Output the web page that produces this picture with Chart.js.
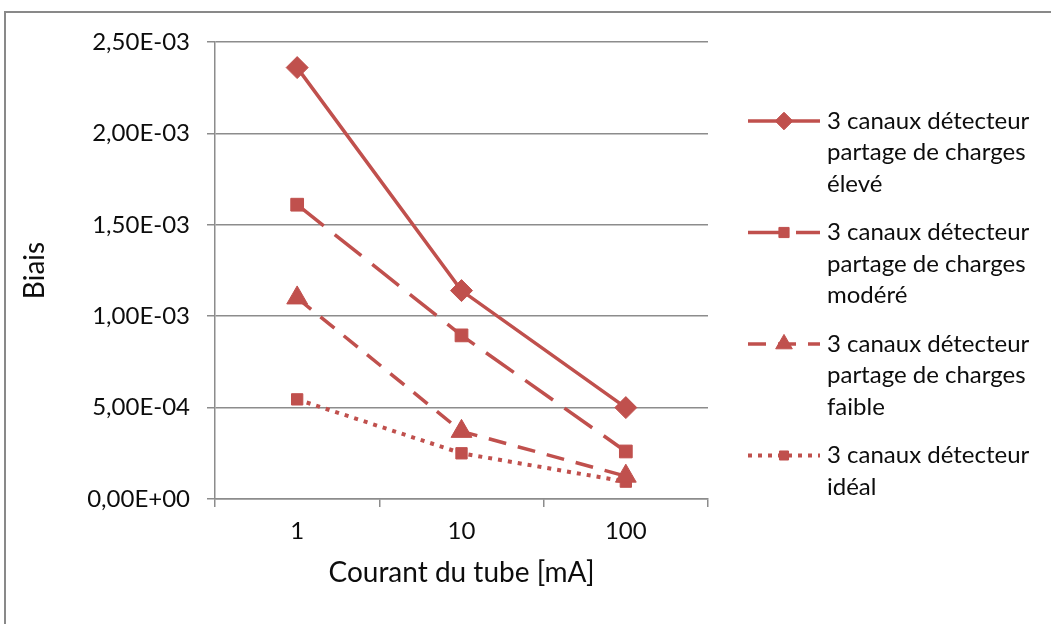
<!DOCTYPE html>
<html lang="fr">
<head>
<meta charset="UTF-8">
<title>Biais en fonction du courant du tube</title>
<script src="https://cdn.jsdelivr.net/npm/chart.js"></script>
<style>
  html, body { margin: 0; padding: 0; background: #fff; }
  #wrap { position: relative; width: 1051px; height: 624px; overflow: hidden; }
</style>
</head>
<body>
<div id="wrap"><canvas id="biaisChart" width="1051" height="624"></canvas></div>
<script>
// valeurs
const courants = ['1', '10', '100'];
const biaisEleve = [2.36e-3, 1.14e-3, 5.0e-4];
const biaisModere = [1.61e-3, 8.95e-4, 2.6e-4];
const biaisFaible = [1.10e-3, 3.7e-4, 1.25e-4];
const biaisIdeal = [5.45e-4, 2.5e-4, 9.5e-5];
const legendes = [
    ['3 canaux détecteur', 'partage de charges', 'élevé'],
    ['3 canaux détecteur', 'partage de charges', 'modéré'],
    ['3 canaux détecteur', 'partage de charges', 'faible'],
    ['3 canaux détecteur', 'idéal']
];
const yMin = 0, yMax = 2.5e-3, yStep = 5e-4;

const ROUGE = '#C0504D';
const GRIS = '#8c8c8c';
const TEXTE = '#0d0d0d';
const POLICE = 'Lato, "Open Sans", sans-serif';

function formatSci(v) {
    const parts = v.toExponential(2).split('e');
    const n = parseInt(parts[1], 10);
    const exp = (n < 0 ? '-' : '+') + String(Math.abs(n)).padStart(2, '0');
    return parts[0].replace('.', ',') + 'E' + exp;
}

// cadre gris autour du graphique
const cadre = {
    id: 'cadre',
    beforeDraw(chart) {
        const ctx = chart.ctx;
        ctx.save();
        ctx.strokeStyle = '#898989';
        ctx.lineWidth = 2;
        ctx.strokeRect(5, 12, 1100, 700);
        ctx.restore();
    }
};

// légende à droite, textes sur plusieurs lignes
const legendeExcel = {
    id: 'legendeExcel',
    afterDraw(chart) {
        const ctx = chart.ctx;
        ctx.save();
        chart.data.datasets.forEach((ds, i) => {
            const y0 = 121 + i * 111.5;
            ctx.strokeStyle = ds.borderColor;
            ctx.fillStyle = ds.backgroundColor;
            ctx.lineWidth = ds.borderWidth;
            ctx.lineCap = 'butt';
            ctx.setLineDash(ds.borderDash || []);
            ctx.beginPath();
            ctx.moveTo(748, y0);
            ctx.lineTo(820, y0);
            ctx.stroke();
            ctx.setLineDash([]);
            ctx.lineWidth = 1;
            Chart.helpers.drawPoint(ctx, {
                pointStyle: ds.pointStyle,
                radius: ds.pointRadius * 0.8,
                borderWidth: 1,
                rotation: 0
            }, 784, y0);
            ctx.fillStyle = TEXTE;
            ctx.font = '24px ' + POLICE;
            ctx.textBaseline = 'middle';
            ctx.textAlign = 'left';
            legendes[i].forEach((txt, j) => {
                ctx.fillText(txt, 827, y0 + j * 31.5);
            });
        });
        ctx.restore();
    }
};

function serie(data, style, rayon, dash, largeur) {
    return {
        data: data,
        borderColor: ROUGE,
        backgroundColor: ROUGE,
        pointBackgroundColor: ROUGE,
        pointBorderColor: ROUGE,
        borderWidth: largeur,
        borderDash: dash,
        pointStyle: style,
        pointRadius: rayon,
        pointBorderWidth: 1,
        tension: 0
    };
}

new Chart(document.getElementById('biaisChart'), {
    type: 'line',
    data: {
        labels: courants,
        datasets: [
            serie(biaisEleve, 'rectRot', 11, [], 3.5),
            serie(biaisModere, 'rect', 9, [34, 14], 3.5),
            serie(biaisFaible, 'triangle', 12, [18, 12], 3.5),
            serie(biaisIdeal, 'rect', 8, [4, 6], 4)
        ]
    },
    options: {
        responsive: false,
        animation: false,
        layout: { padding: { left: 0, top: 42, right: 343, bottom: 0 } },
        plugins: {
            legend: { display: false },
            tooltip: { enabled: false }
        },
        scales: {
            x: {
                offset: true,
                afterFit(scale) { scale.height = 125; },
                grid: {
                    offset: true,
                    drawOnChartArea: false,
                    drawTicks: true,
                    tickLength: 8,
                    color: GRIS,
                    lineWidth: 1.5
                },
                border: { display: true, color: GRIS, width: 1.5 },
                ticks: {
                    color: TEXTE,
                    padding: 10,
                    maxRotation: 0,
                    font: { family: POLICE, size: 24 }
                },
                title: {
                    display: true,
                    text: 'Courant du tube [mA]',
                    color: TEXTE,
                    padding: { top: 0, bottom: 34 },
                    font: { family: POLICE, size: 28 }
                }
            },
            y: {
                min: yMin,
                max: yMax,
                afterFit(scale) { scale.width = 215; },
                grid: {
                    color: GRIS,
                    lineWidth: 1.5,
                    drawTicks: true,
                    tickLength: 8
                },
                border: { display: true, color: GRIS, width: 1.5 },
                ticks: {
                    stepSize: yStep,
                    color: TEXTE,
                    padding: 17,
                    font: { family: POLICE, size: 24 },
                    callback: v => formatSci(v)
                },
                title: {
                    display: true,
                    text: 'Biais',
                    color: TEXTE,
                    padding: { top: 18, bottom: 0 },
                    font: { family: POLICE, size: 28 }
                }
            }
        }
    },
    plugins: [cadre, legendeExcel]
});
</script>
</body>
</html>
